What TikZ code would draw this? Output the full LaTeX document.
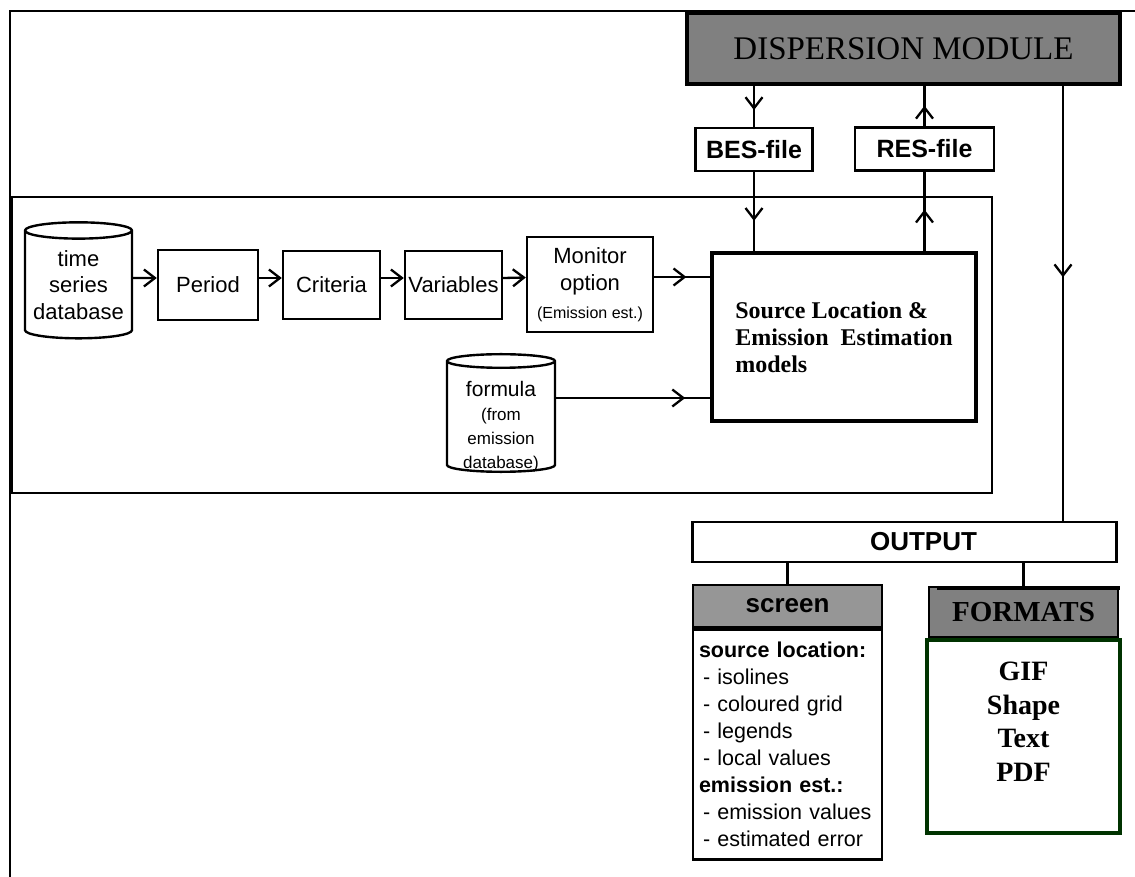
\documentclass[tikz,border=0pt]{standalone}
\usepackage{fontspec}
\setmainfont{Liberation Serif}
\setsansfont{Liberation Sans}
\usetikzlibrary{positioning,shapes.geometric,arrows.meta,decorations.markings}

\definecolor{dispgray}{RGB}{128,128,128}
\definecolor{scrgray}{RGB}{150,150,150}
\definecolor{fmtgreen}{RGB}{0,51,0}

\newcommand{\fs}[2]{\fontsize{#1}{#2}\selectfont}
\newcommand{\scritem}[1]{\hspace*{4pt}- #1}

\tikzset{
	frame/.style={black,line width=2.5pt},
	box/.style={draw=black,line width=2.4pt,inner sep=0pt,align=center,font=\sffamily\fs{22}{27}},
	db/.style={draw=black,line width=2.4pt,cylinder,shape border rotate=90,aspect=0.18,inner sep=0pt,align=center,font=\sffamily\fs{22}{26.5}},
	filebox/.style={draw=black,line width=2.4pt,inner sep=0pt,minimum height=43pt,font=\sffamily\bfseries\fs{25}{30}},
	con/.style={black,line width=2.3pt},
	tip/.style={con,-{Straight Barb[length=11pt,width=17pt]}},
	midtip/.style={con,postaction={decorate},decoration={markings,mark=at position #1 with {\arrow{Straight Barb[length=11pt,width=17pt]}}}}
}
\tikzset{
	dispbox/.style={draw=black,line width=4pt,fill=dispgray,inner sep=0pt,minimum width=433pt,minimum height=71pt,font=\fs{33}{40}},
	srcbox/.style={draw=black,line width=4.5pt,inner sep=0pt,minimum width=264pt,minimum height=168pt,align=left,font=\bfseries\fs{24}{27}},
	outbox/.style={draw=black,line width=2.4pt,inner sep=0pt,minimum width=424pt,minimum height=40pt,font=\sffamily\bfseries\fs{26}{30}},
	scrhead/.style={draw=black,line width=2.4pt,fill=scrgray,inner sep=0pt,minimum width=189pt,minimum height=42pt,font=\sffamily\bfseries\fs{26}{30}},
	scrbody/.style={draw=black,line width=2.4pt,inner xsep=6pt,inner ysep=0pt,text width=177pt,minimum height=230pt,align=left,font=\sffamily\fs{21.5}{27}},
	fmthead/.style={draw=black,line width=2.4pt,fill=dispgray,inner sep=0pt,minimum width=189pt,minimum height=50pt,font=\bfseries\fs{29}{34}},
	fmtbody/.style={draw=fmtgreen,line width=4pt,inner sep=0pt,minimum width=193pt,minimum height=193pt}
}

\begin{document}
\begin{tikzpicture}[x=1pt,y=-1pt]
\useasboundingbox (0,0) rectangle (1135,877);

%Rahmen
\draw[frame] (10,877) -- (10,11) -- (1135,11);
\draw[frame] (12,197) rectangle (992,493);

%oben
\node[dispbox] (disp) at (903.5,48.5) {DISPERSION MODULE};
\node[filebox,minimum width=117pt] (bes) at (754,149.5) {BES-file};
\node[filebox,minimum width=139pt] (res) at (924.5,149) {RES-file};

%Kette
\node[db,minimum width=107pt,minimum height=116pt] (tsdb) at (78.5,285) {time\\series\\database};
\node[box,minimum width=100pt,minimum height=70pt] (per) at (208,285) {Period};
\node[box,minimum width=97pt,minimum height=68pt] (cri) at (331.5,285) {Criteria};
\node[box,minimum width=97pt,minimum height=68pt] (var) at (453.5,285) {Variables};
\node[box,minimum width=126pt,minimum height=95pt,font=\sffamily\fs{22}{27.5}] (mon) at (590,284.5) {Monitor\\option\\{\fs{16}{27.5}(Emission est.)}};
\node[srcbox] (src) at (844,337) {Source Location \&\\Emission\ \ Estimation\\models};
\node[db,minimum width=108pt,minimum height=117pt,font=\sffamily\fs{17}{24}] (form) at (501,417)
	{\raisebox{-11pt}[\height][\depth]{\begin{tabular}{@{}c@{}}{\fs{21}{24}formula}\\(from\\emission\\database)\end{tabular}}};

\draw[tip] ([yshift=7pt]tsdb.east) -- ([yshift=7pt]per.west);
\draw[tip] ([yshift=7pt]per.east) -- ([yshift=7pt]cri.west);
\draw[tip] ([yshift=7pt]cri.east) -- ([yshift=7pt]var.west);
\draw[tip] ([yshift=7pt]var.east) -- ([yshift=7pt]mon.west);
\coordinate (m) at ([yshift=7.5pt]mon.east);
\draw[midtip=0.58] (m) -- (m -| src.west);
\coordinate (f) at ([yshift=19pt]form.east);
\draw[midtip=0.84] (f) -- (f -| src.west);

\draw[midtip=0.59] (disp.south -| bes.north) -- (bes.north);
\draw[midtip=0.62] (bes.south) -- (bes.south |- src.north);
\draw[midtip=0.52] (res.south |- src.north) -- (res.south);
\draw[midtip=0.51] (res.north) -- (res.north |- disp.south);

%Ausgabe
\node[outbox] (out) at (904.5,542) {\hspace*{38pt}OUTPUT};
\coordinate (d) at ([xshift=159.5pt]disp.south);
\draw[midtip=0.44] (d) -- (d |- out.north);

\node[scrhead] (scrh) at (787.5,606) {screen};
\node[scrbody,below=0pt of scrh] (scrb) {\textbf{source location:}\\
\scritem{isolines}\\
\scritem{coloured grid}\\
\scritem{legends}\\
\scritem{local values}\\
\textbf{emission est.:}\\
\scritem{emission values}\\
\scritem{estimated error}};

\node[fmthead] (fmt) at (1023.5,612) {FORMATS};
\draw[con] ([xshift=10pt]fmt.north west) -- ++(0,3) -| (fmt.north east);
\node[fmtbody,below=0pt of fmt,
	label={[align=center,font=\bfseries\fs{28}{33.5},yshift=15pt]center:GIF\\Shape\\Text\\PDF}] (gif) {};

\draw[con] (out.south -| scrh.north) -- (scrh.north);
\draw[con] (out.south -| fmt.north) -- (fmt.north);
\end{tikzpicture}
\end{document}
